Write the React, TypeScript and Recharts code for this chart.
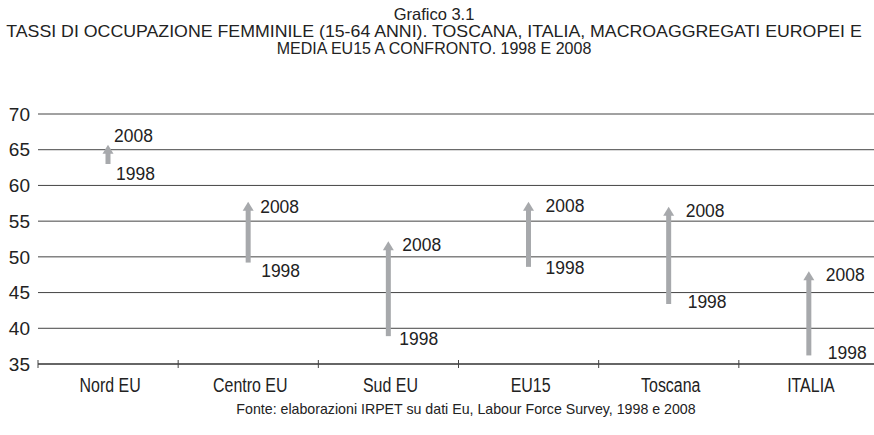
import React from "react"
import { ComposedChart, Bar, XAxis, YAxis, CartesianGrid } from "recharts"

const categories = ["Nord EU", "Centro EU", "Sud EU", "EU15", "Toscana", "ITALIA"]
const values1998 = [63.0, 49.2, 38.9, 48.6, 43.4, 36.2]
const values2008 = [65.7, 57.7, 52.2, 57.7, 57.0, 48.0]
const yTicks = [35, 40, 45, 50, 55, 60, 65, 70]
const seriesLabels = ["1998", "2008"]

const FONT = "'Liberation Sans', Arial, sans-serif"
const TEXT = "#222"
const ARROW = "#a7a9ac"

// label nudges relative to the arrow ends, per category
const labelNudge = [
  { dx08: 6, dy08: -9, dx98: 8, dy98: 9 },
  { dx08: 12, dy08: 4, dx98: 13, dy98: 8 },
  { dx08: 14, dy08: 3, dx98: 11, dy98: 2 },
  { dx08: 17, dy08: 3, dx98: 17, dy98: 0 },
  { dx08: 17, dy08: 3, dx98: 19, dy98: -3 },
  { dx08: 17, dy08: 3, dx98: 19, dy98: -3 },
]

const data = categories.map((name, i) => ({
  name,
  pos: i + 0.5,
  v1998: values1998[i],
  v2008: values2008[i],
}))

const xTicks: number[] = []
for (let i = 0; i <= categories.length * 2; i++) xTicks.push(i / 2)

// narrow-looking text: Liberation Sans squeezed horizontally
function NarrowText({ x, y, size, sx, anchor, children }: any) {
  return (
    <g transform={`translate(${x},${y}) scale(${sx},1)`}>
      <text x={0} y={0} dy="0.35em" fontSize={size} fill={TEXT} fontFamily={FONT} textAnchor={anchor || "start"}>
        {children}
      </text>
    </g>
  )
}

function Arrow(props: any) {
  const { x, y, width, height, index } = props
  const cx = x + width / 2
  const top = Math.min(y, y + height)
  const bottom = Math.max(y, y + height)
  const head = 9
  const n = labelNudge[index]
  return (
    <g>
      <rect x={cx - 2.5} y={top + head - 1} width={5} height={bottom - top - head + 1} fill={ARROW} />
      <polygon points={`${cx},${top} ${cx - 5.5},${top + head} ${cx + 5.5},${top + head}`} fill={ARROW} />
      <NarrowText x={cx + n.dx08} y={top + n.dy08} size={19} sx={0.92}>
        {seriesLabels[1]}
      </NarrowText>
      <NarrowText x={cx + n.dx98} y={bottom + n.dy98} size={19} sx={0.92}>
        {seriesLabels[0]}
      </NarrowText>
    </g>
  )
}

function XTick(props: any) {
  const { x, y, payload } = props
  const v = payload.value
  if (Number.isInteger(v)) {
    return <line x1={x} x2={x} y1={y - 4} y2={y + 4} stroke="#444" strokeWidth={1} />
  }
  return (
    <NarrowText x={x + 2} y={y + 21} size={21} sx={0.76} anchor="middle">
      {categories[Math.floor(v)]}
    </NarrowText>
  )
}

const titleLine = (sx: number): React.CSSProperties => ({
  height: 17,
  whiteSpace: "nowrap",
  transform: `scaleX(${sx})`,
  transformOrigin: "center",
})

export default function App() {
  return (
    <div style={{ position: "absolute", left: 0, top: 0, width: 874, height: 435, overflow: "hidden", background: "#fff", fontFamily: FONT, color: TEXT }}>
      <div style={{ position: "absolute", left: -166, width: 1200, top: 6, textAlign: "center", fontSize: 16.5, lineHeight: "17px" }}>
        <div style={titleLine(1)}>Grafico 3.1</div>
        <div style={titleLine(1.075)}>TASSI DI OCCUPAZIONE FEMMINILE (15-64 ANNI). TOSCANA, ITALIA, MACROAGGREGATI EUROPEI E</div>
        <div style={titleLine(0.97)}>MEDIA EU15 A CONFRONTO. 1998 E 2008</div>
      </div>
      <div style={{ position: "absolute", left: 166, width: 600, top: 401, textAlign: "center", fontSize: 14.2, lineHeight: "17px", whiteSpace: "nowrap" }}>
        Fonte: elaborazioni IRPET su dati Eu, Labour Force Survey, 1998 e 2008
      </div>
      <div style={{ position: "absolute", left: 0, top: 0 }}>
        <ComposedChart width={900} height={435} data={data} margin={{ top: 114, right: 21, left: 0, bottom: 0 }}>
          <CartesianGrid horizontal vertical={false} stroke="#444" strokeWidth={1} />
          <XAxis
            dataKey="pos"
            type="number"
            domain={[0, categories.length]}
            ticks={xTicks}
            interval={0}
            tick={<XTick />}
            tickLine={false}
            tickSize={0}
            tickMargin={0}
            axisLine={{ stroke: "#666", strokeWidth: 2 }}
            height={71}
          />
          <YAxis
            domain={[35, 70]}
            ticks={yTicks}
            interval={0}
            width={38}
            axisLine={false}
            tickLine={false}
            tickSize={0}
            tickMargin={8}
            tick={{ fontSize: 19, fill: TEXT, fontFamily: FONT }}
          />
          <Bar dataKey={(d: any) => [d.v1998, d.v2008]} barSize={10} shape={<Arrow />} isAnimationActive={false} />
        </ComposedChart>
      </div>
    </div>
  )
}
